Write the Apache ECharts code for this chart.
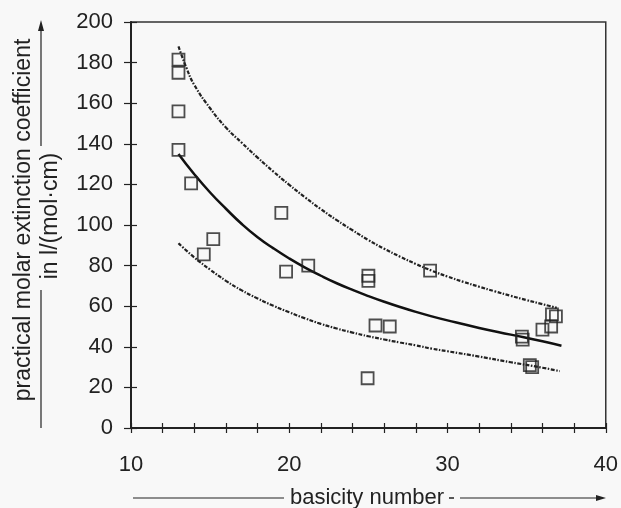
<!DOCTYPE html>
<html>
<head>
<meta charset="utf-8">
<script src="https://cdn.jsdelivr.net/npm/echarts@6/dist/echarts.min.js"></script>
<style>
html,body{margin:0;padding:0;background:#f8f8f8;}
#c{width:621px;height:508px;}
</style>
</head>
<body>
<div id="c"></div>
<script>
// Measured points (basicity number, extinction coefficient)
var pointX = [13.0, 13.0, 13.0, 13.0, 13.8, 14.6, 15.2, 19.5, 19.8, 21.2, 25.0, 25.0, 25.45, 26.35, 24.95, 28.9, 34.7, 34.75, 35.2, 35.35, 36.0, 36.55, 36.6, 36.85];
var pointY = [181.5, 175, 156, 137, 120.5, 85.5, 93, 106, 77, 80, 75, 72.5, 50.5, 50, 24.5, 77.5, 45, 43.5, 31, 30, 48.5, 50, 56, 55];

// Fitted curve (solid)
var fitX = [13, 14, 15, 16, 17, 18, 19, 20, 21, 22, 23, 24, 25, 26, 27, 28, 29, 30, 32, 34, 36, 37.2];
var fitY = [135, 125, 116, 108, 100.5, 94, 88.5, 83.5, 79, 75, 71.3, 68, 65, 62.2, 59.6, 57.2, 55, 53, 49.3, 46, 42.7, 40.5];

// Upper band (dash-dot)
var upX = [13, 13.5, 14, 15, 16, 17, 18, 19, 20, 21, 22, 23, 24, 25, 26, 27, 28, 29, 30, 31, 32, 33, 34, 35, 36, 36.9];
var upY = [188, 177.5, 169, 157.5, 148, 140.5, 133.2, 126.3, 119.8, 113.6, 107.8, 102.4, 97.4, 92.6, 88.3, 84.4, 80.8, 77.5, 74.6, 72, 69.6, 67.3, 65.1, 63, 61, 59.2];

// Lower band (dash-dot)
var lowX = [13, 14, 15, 16, 17, 18, 19, 20, 21, 22, 23, 24, 25, 26, 27, 28, 29, 30, 32, 34, 36, 37.1];
var lowY = [91, 84, 78, 72.5, 67.8, 63.8, 60.2, 57, 54, 51.3, 49, 47, 45.2, 43.6, 42.1, 40.7, 39.1, 37.8, 35.2, 32.4, 29.7, 28];

var xTickLabels = [10, 20, 30, 40];
var yTickLabels = [0, 20, 40, 60, 80, 100, 120, 140, 160, 180, 200];

var xTitle = 'basicity number';
var yTitle1 = 'practical molar extinction coefficient';
var yTitle2 = 'in l/(mol\u00b7cm)';

function zip(a, b) { return a.map(function (v, i) { return [v, b[i]]; }); }

var FONT = '"Liberation Sans", Arial, sans-serif';
var INK = '#222';
var BG = '#f8f8f8';

var chart = echarts.init(document.getElementById('c'), null, {renderer: 'canvas'});

var xBase = {type: 'value', min: 10, max: 40, interval: 2, splitLine: {show: false}};
var yBase = {type: 'value', min: 0, max: 200, interval: 20, splitLine: {show: false}};

chart.setOption({
  backgroundColor: BG,
  animation: false,
  grid: {left: 131, right: 15, top: 22, bottom: 80, show: true, borderColor: '#333', borderWidth: 1.5, backgroundColor: 'transparent'},
  xAxis: [
    Object.assign({}, xBase, {
      axisLine: {show: true, lineStyle: {color: INK, width: 2}},
      axisTick: {show: true, inside: false, length: 5, lineStyle: {color: INK, width: 1.2}},
      axisLabel: {
        show: true, margin: 26, color: INK, fontFamily: FONT, fontSize: 22,
        formatter: function (v) { return xTickLabels.indexOf(v) >= 0 ? String(v) : ''; }
      }
    }),
    Object.assign({}, xBase, {
      position: 'bottom',
      axisLine: {show: false},
      axisTick: {show: true, inside: true, length: 5, lineStyle: {color: INK, width: 1.2}},
      axisLabel: {show: false}
    })
  ],
  yAxis: [
    Object.assign({}, yBase, {
      axisLine: {show: true, lineStyle: {color: INK, width: 2}},
      axisTick: {show: true, inside: false, length: 7, lineStyle: {color: INK, width: 1.2}},
      axisLabel: {
        show: true, margin: 18, color: INK, fontFamily: FONT, fontSize: 22,
        formatter: function (v) { return yTickLabels.indexOf(v) >= 0 ? String(v) : ''; }
      }
    }),
    Object.assign({}, yBase, {
      position: 'left',
      axisLine: {show: false},
      axisTick: {show: true, inside: true, length: 6, lineStyle: {color: INK, width: 1.2}},
      axisLabel: {show: false}
    })
  ],
  series: [
    {
      type: 'line', data: zip(upX, upY), smooth: true, showSymbol: false, symbol: 'none',
      lineStyle: {color: INK, width: 2.2, type: [4, 1.5, 1.5, 1.5]}, z: 2
    },
    {
      type: 'line', data: zip(lowX, lowY), smooth: true, showSymbol: false, symbol: 'none',
      lineStyle: {color: INK, width: 2.2, type: [4, 1.5, 1.5, 1.5]}, z: 2
    },
    {
      type: 'line', data: zip(fitX, fitY), smooth: true, showSymbol: false, symbol: 'none',
      lineStyle: {color: '#111', width: 2.5}, z: 3
    },
    {
      type: 'scatter', data: zip(pointX, pointY), symbol: 'rect', symbolSize: 12,
      itemStyle: {color: 'rgba(0,0,0,0)', borderColor: '#222', borderWidth: 1.8}, z: 4
    }
  ],
  graphic: [
    {type: 'text', x: 24, y: 220, rotation: Math.PI / 2,
     style: {text: yTitle1, font: '23px ' + FONT, fill: INK, align: 'center', verticalAlign: 'middle'}},
    {type: 'line', shape: {x1: 41, y1: 428, x2: 41, y2: 290}, style: {stroke: INK, lineWidth: 1.2}},
    {type: 'line', shape: {x1: 41, y1: 146, x2: 41, y2: 28}, style: {stroke: INK, lineWidth: 1.2}},
    {type: 'polygon', shape: {points: [[41, 20], [38, 31], [44, 31]]}, style: {fill: INK}},
    {type: 'text', x: 51, y: 216, rotation: Math.PI / 2,
     style: {text: yTitle2, font: '23px ' + FONT, fill: INK, align: 'center', verticalAlign: 'middle'}},
    {type: 'line', shape: {x1: 133, y1: 498, x2: 284, y2: 498}, style: {stroke: INK, lineWidth: 1.2}},
    {type: 'text', x: 367, y: 498,
     style: {text: xTitle, font: '22px ' + FONT, fill: INK, align: 'center', verticalAlign: 'middle'}},
    {type: 'line', shape: {x1: 449, y1: 498, x2: 454, y2: 498}, style: {stroke: INK, lineWidth: 1.5}},
    {type: 'line', shape: {x1: 460, y1: 498, x2: 598, y2: 498}, style: {stroke: INK, lineWidth: 1.2}},
    {type: 'polygon', shape: {points: [[606, 498], [596, 495], [596, 501]]}, style: {fill: INK}}
  ]
});
</script>
</body>
</html>
